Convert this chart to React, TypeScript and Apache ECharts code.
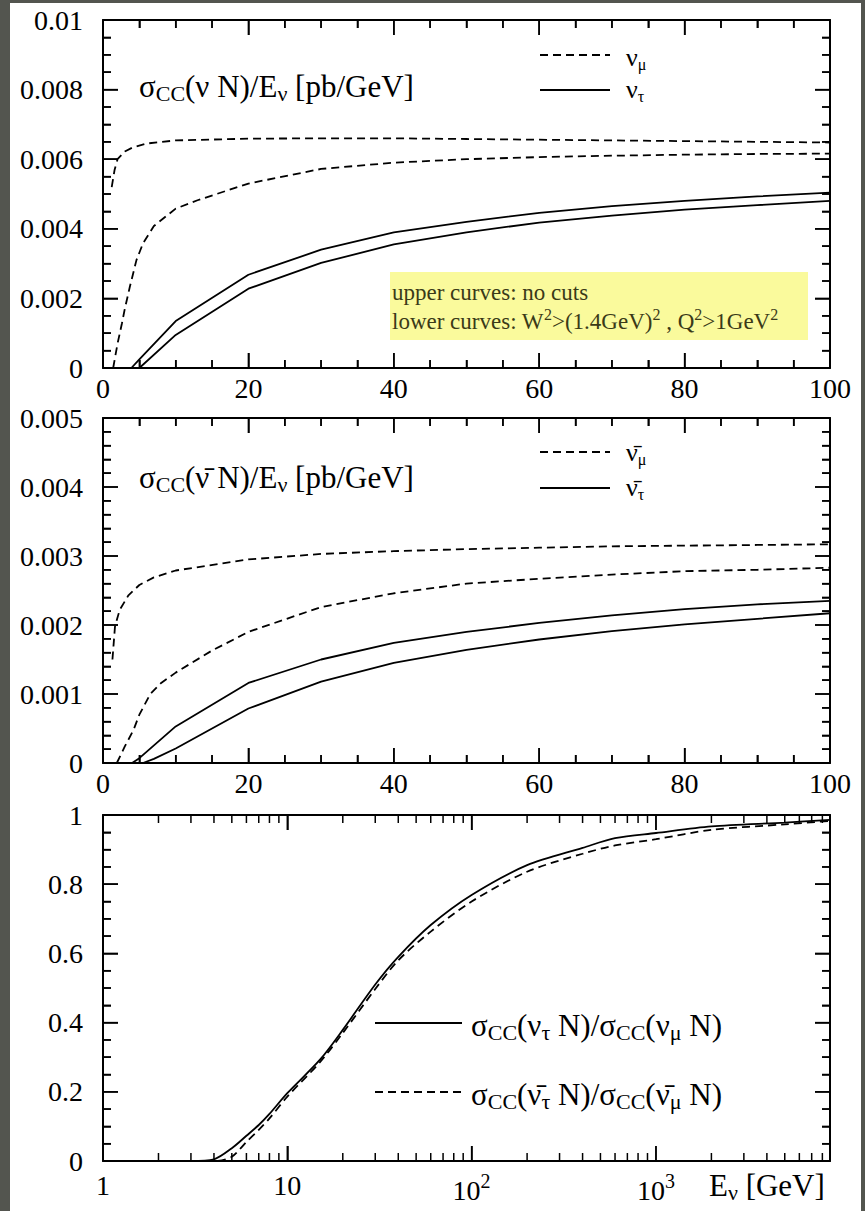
import React, { useEffect, useRef } from 'react';
import * as echarts from 'echarts';

// ---------- data ----------
// Top panel: sigma_CC(nu N)/E [pb/GeV] vs E [GeV]
const numuNoCuts: [number, number][] = [
  [1.2, 0.0052], [1.6, 0.0057], [2, 0.006], [3, 0.00622], [4, 0.00633], [6, 0.00645],
  [10, 0.00654], [20, 0.00659], [30, 0.0066], [40, 0.0066], [50, 0.00658], [60, 0.00656],
  [70, 0.00654], [80, 0.00652], [90, 0.0065], [100, 0.00648],
];
const numuCuts: [number, number][] = [
  [1.4, 0], [2, 0.0007], [2.6, 0.00128], [3, 0.0017], [3.7, 0.00234], [4.6, 0.0031],
  [5.5, 0.00358], [7, 0.00408], [10, 0.00458], [13, 0.00482], [20, 0.0053], [30, 0.00572],
  [40, 0.0059], [50, 0.006], [60, 0.00606], [70, 0.0061], [80, 0.00613], [90, 0.00615], [100, 0.00616],
];
const nutauNoCuts: [number, number][] = [
  [3.9, 0], [5, 0.00025], [10, 0.00135], [20, 0.00268], [30, 0.0034], [40, 0.0039],
  [50, 0.0042], [60, 0.00446], [70, 0.00465], [80, 0.0048], [90, 0.00493], [100, 0.00504],
];
const nutauCuts: [number, number][] = [
  [5, 0], [10, 0.00095], [20, 0.00228], [30, 0.00302], [40, 0.00355], [50, 0.0039],
  [60, 0.00418], [70, 0.00438], [80, 0.00455], [90, 0.00468], [100, 0.0048],
];

// Middle panel: sigma_CC(nubar N)/E [pb/GeV] vs E [GeV]
const nubarmuNoCuts: [number, number][] = [
  [1.3, 0.0015], [1.65, 0.00198], [2.3, 0.00222], [3.5, 0.00243], [5, 0.00258], [7, 0.00269],
  [10, 0.00279], [20, 0.00295], [30, 0.00303], [40, 0.00307], [50, 0.0031], [60, 0.00312],
  [70, 0.00314], [80, 0.00315], [90, 0.00316], [100, 0.00317],
];
const nubarmuCuts: [number, number][] = [
  [1.9, 0], [3, 0.00024], [4.2, 0.00048], [5, 0.0007], [6.5, 0.001], [8, 0.00116],
  [10, 0.00131], [15, 0.00163], [20, 0.0019], [30, 0.00226], [40, 0.00246], [50, 0.0026],
  [60, 0.00267], [70, 0.00273], [80, 0.00278], [90, 0.0028], [100, 0.00283],
];
const nubartauNoCuts: [number, number][] = [
  [4, 0], [5, 0.00007], [10, 0.00053], [20, 0.00116], [30, 0.0015], [40, 0.00174],
  [50, 0.0019], [60, 0.00203], [70, 0.00214], [80, 0.00223], [90, 0.0023], [100, 0.00235],
];
const nubartauCuts: [number, number][] = [
  [5.5, 0], [7, 0.00006], [10, 0.00021], [20, 0.00079], [30, 0.00118], [40, 0.00145],
  [50, 0.00164], [60, 0.00179], [70, 0.00191], [80, 0.00201], [90, 0.00209], [100, 0.00217],
];

// Bottom panel: ratios vs E [GeV] (log)
const ratioNu: [number, number][] = [
  [3, 0], [4, 0.005], [5, 0.037], [6, 0.073], [7, 0.104], [8, 0.136], [10, 0.196], [15, 0.292],
  [20, 0.379], [30, 0.51], [40, 0.59], [60, 0.682], [100, 0.769], [200, 0.855], [400, 0.905],
  [600, 0.933], [1000, 0.948], [2000, 0.967], [5000, 0.978], [8800, 0.986],
];
const ratioNubar: [number, number][] = [
  [4.2, 0], [5, 0.012], [6, 0.055], [7, 0.09], [8, 0.123], [10, 0.186], [15, 0.285],
  [20, 0.37], [30, 0.497], [40, 0.58], [60, 0.663], [100, 0.75], [200, 0.836], [400, 0.888],
  [600, 0.912], [1000, 0.93], [2000, 0.957], [5000, 0.973], [8800, 0.983],
];

// axis ranges / tick positions
const linXRange = { min: 0, max: 100, interval: 20 };
const topYRange = { min: 0, max: 0.01, interval: 0.002 };
const midYRange = { min: 0, max: 0.005, interval: 0.001 };
const botYRange = { min: 0, max: 1, interval: 0.2 };
const logXRange = { min: 1, max: 8800 };
const linXMajor = [0, 20, 40, 60, 80, 100];
const linXMinor = [5, 10, 15, 25, 30, 35, 45, 50, 55, 65, 70, 75, 85, 90, 95];
const topYMajor = [0, 0.002, 0.004, 0.006, 0.008, 0.01];
const topYMinor = [0.0005, 0.001, 0.0015, 0.0025, 0.003, 0.0035, 0.0045, 0.005, 0.0055, 0.0065, 0.007, 0.0075, 0.0085, 0.009, 0.0095];
const midYMajor = [0, 0.001, 0.002, 0.003, 0.004, 0.005];
const midYMinor = [0.0002, 0.0004, 0.0006, 0.0008, 0.0012, 0.0014, 0.0016, 0.0018, 0.0022, 0.0024, 0.0026, 0.0028, 0.0032, 0.0034, 0.0036, 0.0038, 0.0042, 0.0044, 0.0046, 0.0048];
const botYMajor = [0, 0.2, 0.4, 0.6, 0.8, 1];
const botYMinor = [0.05, 0.1, 0.15, 0.25, 0.3, 0.35, 0.45, 0.5, 0.55, 0.65, 0.7, 0.75, 0.85, 0.9, 0.95];
const logMajorTickValues = [1, 10, 100, 1000];
const logMinorTickValues = [
  2, 3, 4, 5, 6, 7, 8, 9, 20, 30, 40, 50, 60, 70, 80, 90,
  200, 300, 400, 500, 600, 700, 800, 900, 2000, 3000, 4000, 5000, 6000, 7000, 8000,
];

// ---------- layout ----------
const W = 865, H = 1211;
const OX = 10, OY = 3; // white panel offset
const FF = '"Liberation Serif", "Times New Roman", serif';
const GRIDS = [
  { l: 103, t: 20, r: 830, b: 368 },
  { l: 103, t: 418, r: 830, b: 763 },
  { l: 103, t: 815, r: 830, b: 1161 },
];
const TICK_FS = 28;
const MAJ_LEN = 15, MIN_LEN = 8;
const TICK_LS = { color: '#000', width: 1.5 };

const AL = { show: true, onZero: false, lineStyle: { color: '#000', width: 2 } };
const TICK = { show: true, inside: true, length: MAJ_LEN, lineStyle: TICK_LS };
const MINOR = (n: number) => ({ show: true, splitNumber: n, length: MIN_LEN, lineStyle: TICK_LS });
const LBL = { fontSize: TICK_FS, fontFamily: FF, color: '#000' };

const fmtY = (v: number) => (v === 0 ? '0' : String(Number(v.toFixed(5))));

function linX(grid: number, pos: string, labels: boolean) {
  return {
    type: 'value', gridIndex: grid, position: pos, ...linXRange,
    axisLine: AL, axisTick: TICK, minorTick: MINOR(4),
    splitLine: { show: false }, minorSplitLine: { show: false },
    axisLabel: labels ? { ...LBL, margin: 6 } : { show: false },
  };
}
function linY(grid: number, pos: string, range: any, minor: number, labels: boolean) {
  return {
    type: 'value', gridIndex: grid, position: pos, ...range,
    axisLine: AL, axisTick: TICK, minorTick: MINOR(minor),
    splitLine: { show: false }, minorSplitLine: { show: false },
    axisLabel: labels ? { ...LBL, margin: 20, formatter: fmtY } : { show: false },
  };
}
const logLabel = (v: number) => {
  const r = Math.round(Math.log10(v));
  if (r <= 1) return String(Math.round(v));
  return `{b|10}{s|${r}}`;
};
function logX(pos: string, labels: boolean) {
  return {
    type: 'log', logBase: 10, gridIndex: 2, position: pos, ...logXRange,
    axisLine: AL, axisTick: TICK,
    splitLine: { show: false }, minorTick: { show: false },
    axisLabel: labels
      ? {
          ...LBL, margin: 10, formatter: logLabel, showMaxLabel: false,
          rich: {
            b: { fontSize: TICK_FS, fontFamily: FF, color: '#000' },
            s: { fontSize: 20, fontFamily: FF, color: '#000', padding: [0, 0, 18, 0] },
          },
        }
      : { show: false },
  };
}

// tick marks on all four sides of a frame, placed through the axes' own scales
function tickSeries(xi: number, yi: number, xr: number[], yr: number[], xMaj: number[], xMin: number[], yMaj: number[], yMin: number[]) {
  const data: number[][] = [];
  xMaj.forEach((v) => data.push([v, yr[0], 0, MAJ_LEN]));
  xMin.forEach((v) => data.push([v, yr[0], 0, MIN_LEN]));
  yMaj.forEach((v) => data.push([xr[0], v, 1, MAJ_LEN]));
  yMin.forEach((v) => data.push([xr[0], v, 1, MIN_LEN]));
  return {
    type: 'custom', xAxisIndex: xi, yAxisIndex: yi, silent: true, clip: false, z: 4,
    dimensions: ['tx', 'ty', 'kind', 'len'],
    encode: { x: 0, y: 1 },
    data,
    renderItem: (params: any, api: any) => {
      const x = api.value(0);
      const y = api.value(1);
      const kind = api.value(2);
      const len = api.value(3);
      const st = { stroke: '#000', lineWidth: 1.5 };
      if (kind === 0) {
        const a = api.coord([x, yr[0]]);
        const b = api.coord([x, yr[1]]);
        return {
          type: 'group',
          children: [
            { type: 'line', shape: { x1: a[0], y1: a[1], x2: a[0], y2: a[1] - len }, style: st },
            { type: 'line', shape: { x1: b[0], y1: b[1], x2: b[0], y2: b[1] + len }, style: st },
          ],
        };
      }
      const a = api.coord([xr[0], y]);
      const b = api.coord([xr[1], y]);
      return {
        type: 'group',
        children: [
          { type: 'line', shape: { x1: a[0], y1: a[1], x2: a[0] + len, y2: a[1] }, style: st },
          { type: 'line', shape: { x1: b[0], y1: b[1], x2: b[0] - len, y2: b[1] }, style: st },
        ],
      };
    },
  };
}

function line(data: [number, number][], dashed: boolean, xi: number, yi: number, smooth: any = false) {
  return {
    type: 'line', xAxisIndex: xi, yAxisIndex: yi, data, symbol: 'none', showSymbol: false, smooth,
    silent: true,
    lineStyle: { color: '#000', width: 1.8, type: dashed ? [8, 5] : 'solid' },
    itemStyle: { color: '#000' },
  };
}

// ---------- graphic helpers ----------
const px = (x: number) => x - OX;
const py = (y: number) => y - OY;
function rtext(x: number, y: number, text: string, main = 31, sub = 22, shift = 15, fill = '#000') {
  const rich: any = {
    m: { fontSize: main, fontFamily: FF, fill },
    s: { fontSize: sub, fontFamily: FF, fill, padding: [shift, 0, 0, 0] },
    u: { fontSize: sub, fontFamily: FF, fill, padding: [0, 0, shift, 0] },
  };
  return {
    type: 'text', x: px(x), y: py(y), z: 10,
    style: { text, rich, fontSize: main, fontFamily: FF, fill, align: 'left', verticalAlign: 'middle' },
  };
}
function hline(x1: number, x2: number, y: number, dashed: boolean) {
  const style: any = { stroke: '#000', lineWidth: 1.8 };
  if (dashed) style.lineDash = [8, 5];
  return { type: 'line', z: 10, shape: { x1: px(x1), y1: py(y), x2: px(x2), y2: py(y) }, style };
}

const NUB = '\u03BD\u0304';

export default function App() {
  const ref = useRef<HTMLDivElement>(null);
  useEffect(() => {
    if (!ref.current) return;
    const chart = echarts.init(ref.current, undefined, { renderer: 'svg' });
    const option: any = {
      animation: false,
      backgroundColor: '#ffffff',
      grid: GRIDS.map((g) => ({
        left: px(g.l), top: py(g.t), width: g.r - g.l, height: g.b - g.t,
        containLabel: false, outerBoundsMode: 'none', show: false,
      })),
      xAxis: [
        linX(0, 'bottom', true), linX(0, 'top', false),
        linX(1, 'bottom', true), linX(1, 'top', false),
        logX('bottom', true), logX('top', false),
      ],
      yAxis: [
        linY(0, 'left', topYRange, 4, true), linY(0, 'right', topYRange, 4, false),
        linY(1, 'left', midYRange, 5, true), linY(1, 'right', midYRange, 5, false),
        linY(2, 'left', botYRange, 4, true), linY(2, 'right', botYRange, 4, false),
      ],
      series: [
        line(numuNoCuts, true, 0, 0), line(numuCuts, true, 0, 0),
        line(nutauNoCuts, false, 0, 0), line(nutauCuts, false, 0, 0),
        line(nubarmuNoCuts, true, 2, 2), line(nubarmuCuts, true, 2, 2),
        line(nubartauNoCuts, false, 2, 2), line(nubartauCuts, false, 2, 2),
        line(ratioNu, false, 4, 4, 0.3), line(ratioNubar, true, 4, 4, 0.3),
        tickSeries(0, 0, [linXRange.min, linXRange.max], [topYRange.min, topYRange.max], linXMajor, linXMinor, topYMajor, topYMinor),
        tickSeries(2, 2, [linXRange.min, linXRange.max], [midYRange.min, midYRange.max], linXMajor, linXMinor, midYMajor, midYMinor),
        tickSeries(4, 4, [logXRange.min, logXRange.max], [botYRange.min, botYRange.max], logMajorTickValues, logMinorTickValues, botYMajor, botYMinor),
      ],
      graphic: [
        // top panel
        rtext(139, 86, '{m|σ}{s|CC}{m|(ν N)/E}{s|ν}{m| [pb/GeV]}'),
        hline(540, 610, 55, true),
        hline(540, 610, 90, false),
        rtext(626, 57, '{m|ν}{s|μ}', 26, 16, 14),
        rtext(626, 89, '{m|ν}{s|τ}', 26, 16, 14),
        {
          type: 'rect', z: 9,
          shape: { x: px(390), y: py(272), width: 418, height: 68 },
          style: { fill: '#fafa9c' },
        },
        rtext(392, 292, '{m|upper curves: no cuts}', 23, 16, 12, '#3a3a18'),
        rtext(392, 321, '{m|lower curves: W}{u|2}{m|>(1.4GeV)}{u|2}{m| , Q}{u|2}{m|>1GeV}{u|2}', 23, 16, 14, '#3a3a18'),
        // middle panel
        rtext(139, 477, `{m|σ}{s|CC}{m|(${NUB} N)/E}{s|ν}{m| [pb/GeV]}`),
        hline(540, 610, 452, true),
        hline(540, 610, 488, false),
        rtext(626, 452, `{m|${NUB}}{s|μ}`, 26, 16, 14),
        rtext(626, 487, `{m|${NUB}}{s|τ}`, 26, 16, 14),
        // bottom panel
        hline(375, 462, 1023, false),
        hline(375, 462, 1092, true),
        rtext(471, 1025, '{m|σ}{s|CC}{m|(ν}{s|τ}{m| N)/σ}{s|CC}{m|(ν}{s|μ}{m| N)}'),
        rtext(471, 1094, `{m|σ}{s|CC}{m|(${NUB}}{s|τ}{m| N)/σ}{s|CC}{m|(${NUB}}{s|μ}{m| N)}`),
        rtext(709, 1185, '{m|E}{s|ν}{m| [GeV]}'),
      ],
    };
    chart.setOption(option);
    return () => chart.dispose();
  }, []);
  return (
    <div style={{ position: 'fixed', left: 0, top: 0, width: W, height: H, background: '#53554f' }}>
      <div ref={ref} style={{ position: 'absolute', left: OX, top: OY, width: W - OX - 4, height: H - OY }} />
    </div>
  );
}
